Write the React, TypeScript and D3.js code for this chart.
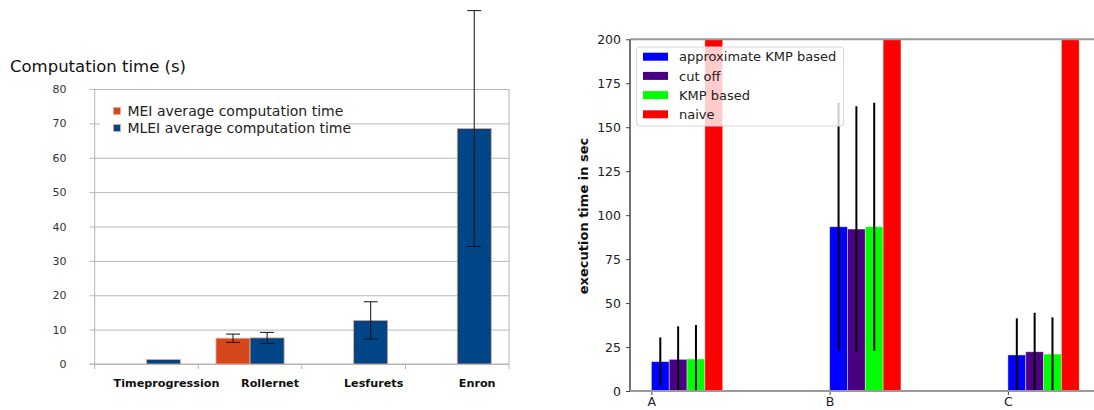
import React, { useEffect, useRef } from "react";
import * as d3 from "d3";

// left chart data
const datasets = ["Timeprogression", "Rollernet", "Lesfurets", "Enron"];
const leftSeries = ["MEI average computation time", "MLEI average computation time"];
const meiTime = [0, 7.5, 0, 0];
const meiErr = [0, 1.2, 0, 0];
const mleiTime = [1.3, 7.6, 12.7, 68.5];
const mleiErr = [0, 1.6, 5.4, 34.3];
const leftTicks = [0, 10, 20, 30, 40, 50, 60, 70, 80];

// right chart data
const groups = ["A", "B", "C"];
const rightSeries = ["approximate KMP based", "cut off", "KMP based", "naive"];
const approxKmp = [16.7, 93.4, 20.5];
const approxErr = [13.8, 70.5, 20.8];
const cutOff = [18.0, 92.1, 22.3];
const cutOffErr = [18.8, 69.8, 22.2];
const kmpBased = [18.2, 93.4, 21.0];
const kmpErr = [19.3, 70.5, 20.9];
const naive = [520, 1150, 640];
const rightTicks = [0, 25, 50, 75, 100, 125, 150, 175, 200];

const leftColors = ["#d5471c", "#004586"];
const rightColors = ["#0000ff", "#4b0082", "#00ff00", "#ff0000"];
const font = "DejaVu Sans";

export default function App() {
  const ref = useRef<SVGSVGElement>(null);

  useEffect(() => {
    const svg = d3.select(ref.current);
    svg.selectAll("*").remove();

    // ---------- left chart ----------
    const L = { left: 94.7, right: 509, top: 89, bottom: 364 };
    const xL = d3.scaleBand().domain(datasets).range([L.left, L.right]);
    const xS = d3.scaleBand().domain(leftSeries).range([0, xL.bandwidth()]).paddingOuter(0.52);
    const yL = d3.scaleLinear().domain([0, 80]).range([L.bottom, L.top]);
    const gl = svg.append("g");

    // gridlines
    gl.append("g")
      .attr("transform", `translate(${L.right},0)`)
      .call(d3.axisLeft(yL).tickValues(leftTicks).tickSize(L.right - 89.5).tickFormat(() => ""))
      .call(g => g.select(".domain").remove())
      .call(g => g.selectAll("line").attr("stroke", "#b9b9b9"));
    // tick labels
    gl.append("g")
      .attr("transform", `translate(89.5,0)`)
      .call(d3.axisLeft(yL).tickValues(leftTicks).tickSize(0).tickPadding(23))
      .call(g => g.select(".domain").remove())
      .call(g => g.selectAll("text").attr("font-family", font).attr("font-size", 11).attr("fill", "#333"));
    // frame
    gl.append("line").attr("x1", L.left).attr("x2", L.left).attr("y1", L.top).attr("y2", L.bottom + 5).attr("stroke", "#b3b3b3");
    gl.append("line").attr("x1", L.right).attr("x2", L.right).attr("y1", L.top).attr("y2", L.bottom + 5).attr("stroke", "#b3b3b3");
    gl.append("line").attr("x1", 89.5).attr("x2", L.right).attr("y1", L.bottom).attr("y2", L.bottom).attr("stroke", "#b3b3b3");
    datasets.slice(1).forEach(d => {
      gl.append("line").attr("x1", xL(d)!).attr("x2", xL(d)!).attr("y1", L.bottom).attr("y2", L.bottom + 5).attr("stroke", "#b3b3b3");
    });

    const leftRows = datasets.flatMap((d, i) => [
      { cat: d, s: leftSeries[0], v: meiTime[i], e: meiErr[i], c: leftColors[0] },
      { cat: d, s: leftSeries[1], v: mleiTime[i], e: mleiErr[i], c: leftColors[1] },
    ]).filter(r => r.v > 0);

    gl.selectAll("rect.bar")
      .data(leftRows)
      .join("rect")
      .attr("class", "bar")
      .attr("x", r => xL(r.cat)! + xS(r.s)!)
      .attr("y", r => yL(r.v))
      .attr("width", xS.bandwidth())
      .attr("height", r => L.bottom - yL(r.v))
      .attr("fill", r => r.c)
      .attr("stroke", "#f0a88c")
      .attr("stroke-width", 0.8);

    const errRows = leftRows.filter(r => r.e > 0);
    const eg = gl.selectAll("g.err").data(errRows).join("g").attr("class", "err")
      .attr("transform", r => `translate(${xL(r.cat)! + xS(r.s)! + xS.bandwidth() / 2},0)`);
    eg.append("line").attr("y1", r => yL(r.v - r.e)).attr("y2", r => yL(r.v + r.e)).attr("stroke", "#111");
    eg.append("line").attr("x1", -7).attr("x2", 7).attr("y1", r => yL(r.v + r.e)).attr("y2", r => yL(r.v + r.e)).attr("stroke", "#111");
    eg.append("line").attr("x1", -7).attr("x2", 7).attr("y1", r => yL(r.v - r.e)).attr("y2", r => yL(r.v - r.e)).attr("stroke", "#111");

    // category labels
    gl.selectAll("text.cat").data(datasets).join("text").attr("class", "cat")
      .attr("x", d => xL(d)! + xL.bandwidth() / 2 + 20)
      .attr("y", 387)
      .attr("text-anchor", "middle")
      .attr("font-family", font).attr("font-size", 11.2).attr("font-weight", "bold").attr("fill", "#111")
      .text(d => d);

    // legend
    const lg = gl.append("g");
    lg.append("rect").attr("x", 100).attr("y", 101).attr("width", 246).attr("height", 36).attr("fill", "#fff");
    leftSeries.forEach((s, i) => {
      const cy = 111 + i * 17;
      lg.append("rect").attr("x", 113.5).attr("y", cy - 3.5).attr("width", 7).attr("height", 7)
        .attr("fill", leftColors[i]).attr("stroke", "#f0a88c").attr("stroke-width", 0.6);
      lg.append("text").attr("x", 127.4).attr("y", cy).attr("dy", "0.36em")
        .attr("font-family", font).attr("font-size", 14).attr("fill", "#222").text(s);
    });

    gl.append("text").attr("x", 10).attr("y", 72)
      .attr("font-family", font).attr("font-size", 16.5).attr("fill", "#111")
      .text("Computation time (s)");

    // ---------- right chart ----------
    const R = { left: 630, right: 1100.6, top: 39.3, bottom: 391 };
    const xR = d3.scaleLinear().domain([-0.12, 2.52]).range([R.left, R.right]);
    const yR = d3.scaleLinear().domain([0, 200]).range([R.bottom, R.top]);
    const bw = 0.1;
    const gr = svg.append("g");

    svg.append("defs").append("clipPath").attr("id", "clipR")
      .append("rect").attr("x", R.left).attr("y", R.top).attr("width", R.right - R.left).attr("height", R.bottom - R.top);

    const vals = [approxKmp, cutOff, kmpBased, naive];
    const errs = [approxErr, cutOffErr, kmpErr, null];
    const rightRows = groups.flatMap((g, i) => rightSeries.map((s, k) => ({
      i, k, v: vals[k][i], e: errs[k] ? errs[k]![i] : 0,
    })));

    const plot = gr.append("g").attr("clip-path", "url(#clipR)");
    plot.selectAll("rect").data(rightRows).join("rect")
      .attr("x", r => xR(r.i + r.k * bw))
      .attr("y", r => yR(r.v))
      .attr("width", xR(bw) - xR(0))
      .attr("height", r => R.bottom - yR(r.v))
      .attr("fill", r => rightColors[r.k])
      .attr("stroke", "#fff").attr("stroke-opacity", 0.5).attr("stroke-width", 0.8);
    plot.selectAll("line.err").data(rightRows.filter(r => r.e > 0)).join("line").attr("class", "err")
      .attr("x1", r => xR(r.i + r.k * bw + bw / 2))
      .attr("x2", r => xR(r.i + r.k * bw + bw / 2))
      .attr("y1", r => yR(r.v - r.e))
      .attr("y2", r => yR(r.v + r.e))
      .attr("stroke", "#000").attr("stroke-width", 2);

    gr.append("g")
      .attr("transform", `translate(${R.left},0)`)
      .call(d3.axisLeft(yR).tickValues(rightTicks).tickSize(4).tickPadding(5))
      .call(g => g.select(".domain").remove())
      .call(g => g.selectAll("line").attr("stroke", "#444"))
      .call(g => g.selectAll("text").attr("font-family", font).attr("font-size", 12.5).attr("fill", "#222"));
    gr.append("g")
      .attr("transform", `translate(0,${R.bottom})`)
      .call(d3.axisBottom(xR).tickValues([0, 1, 2]).tickFormat((d: any) => groups[d]).tickSize(4).tickPadding(2))
      .call(g => g.select(".domain").remove())
      .call(g => g.selectAll("line").attr("stroke", "#444"))
      .call(g => g.selectAll("text").attr("font-family", font).attr("font-size", 12.5).attr("fill", "#222"));

    gr.append("line").attr("x1", R.left).attr("x2", R.left).attr("y1", R.top).attr("y2", R.bottom).attr("stroke", "#444").attr("stroke-width", 1.5);
    gr.append("line").attr("x1", R.left).attr("x2", R.right).attr("y1", R.top).attr("y2", R.top).attr("stroke", "#999").attr("stroke-width", 2);
    gr.append("line").attr("x1", R.left).attr("x2", R.right).attr("y1", R.bottom).attr("y2", R.bottom).attr("stroke", "#999").attr("stroke-width", 2);

    gr.append("text")
      .attr("transform", `translate(588,216) rotate(-90)`)
      .attr("text-anchor", "middle")
      .attr("font-family", font).attr("font-size", 13).attr("font-weight", "bold").attr("fill", "#111")
      .text("execution time in sec");

    const rl = gr.append("g");
    rl.append("rect").attr("x", 636.6).attr("y", 47).attr("width", 207).attr("height", 79).attr("rx", 3)
      .attr("fill", "#fff").attr("fill-opacity", 0.8).attr("stroke", "#d6d6d6");
    rightSeries.forEach((s, k) => {
      const cy = 56.7 + k * 19.2;
      rl.append("rect").attr("x", 643).attr("y", cy - 4).attr("width", 25).attr("height", 8).attr("fill", rightColors[k]);
      rl.append("text").attr("x", 679).attr("y", cy).attr("dy", "0.36em")
        .attr("font-family", font).attr("font-size", 13).attr("fill", "#222").text(s);
    });
  }, []);

  return (
    <svg ref={ref} width={1094} height={410} style={{ position: "absolute", left: 0, top: 0, background: "#fff" }} />
  );
}
